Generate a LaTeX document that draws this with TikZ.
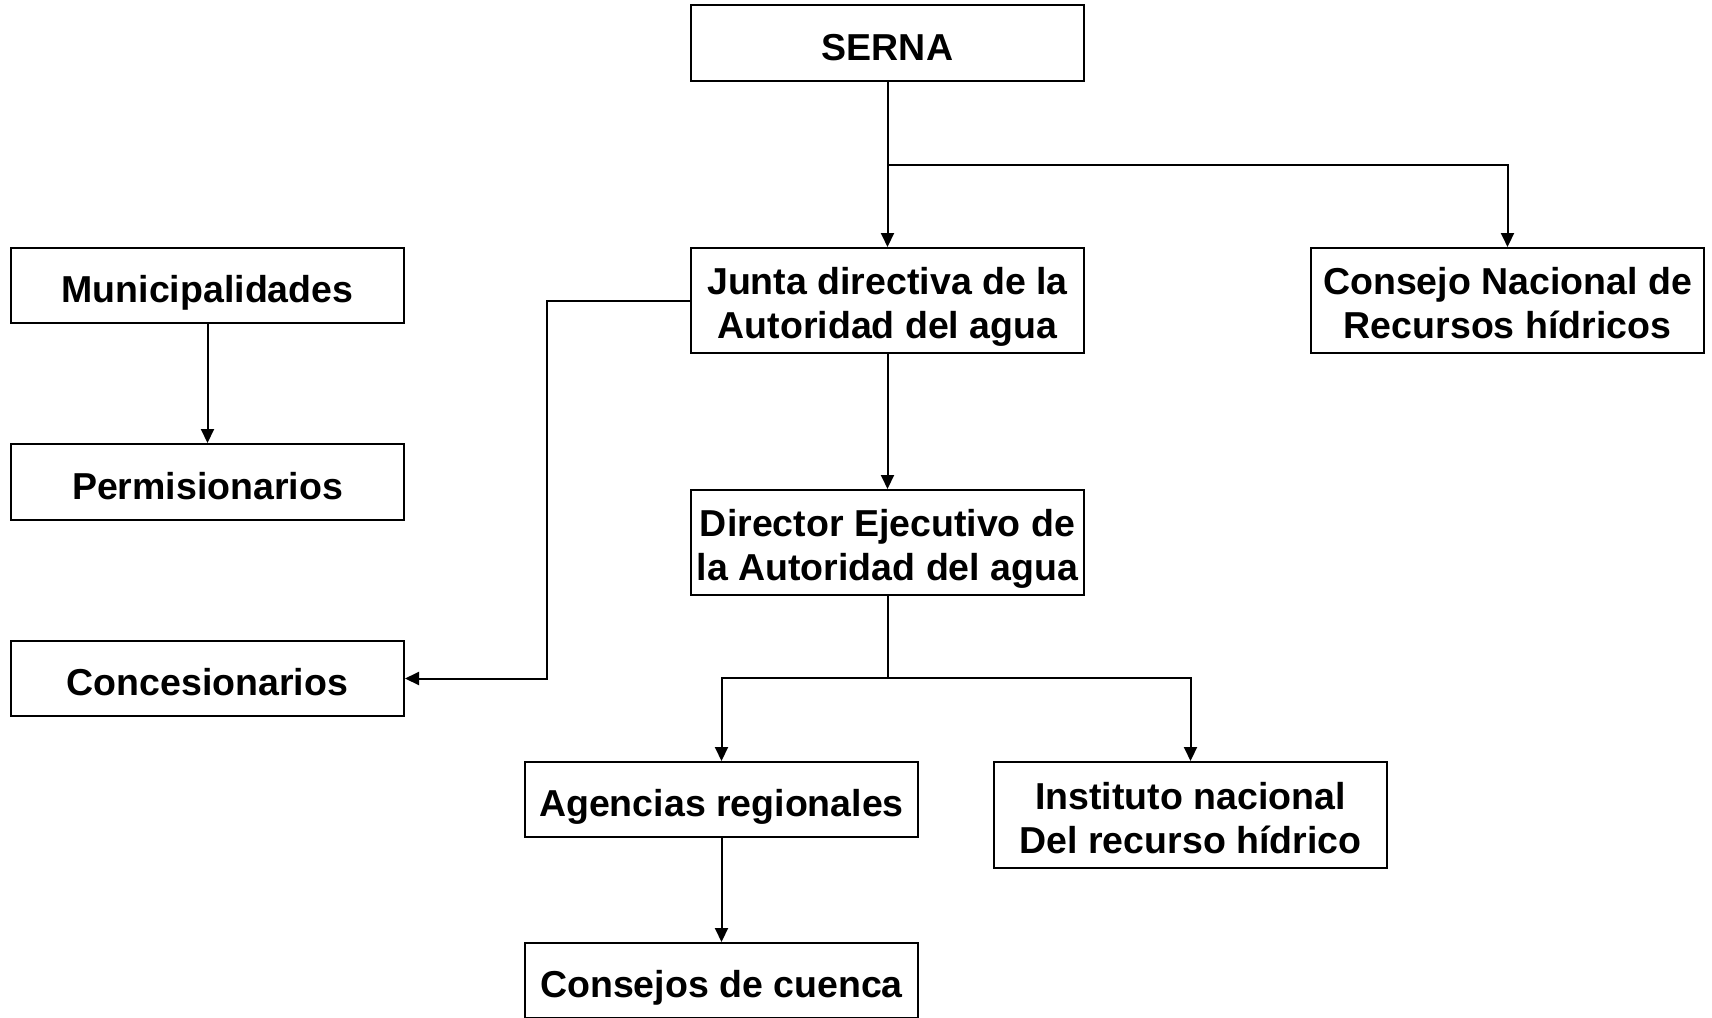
\documentclass[tikz,border=0pt]{standalone}
\usepackage{fontspec}
\setmainfont{Liberation Sans}
\usetikzlibrary{arrows.meta}
\begin{document}
\begin{tikzpicture}[x=1pt,y=-1pt,
  box/.style={draw=black,line width=2pt,rectangle,minimum width=393pt,inner sep=0pt,
    align=center,font=\fontsize{37.5}{44}\selectfont\bfseries},
  boxone/.style={box,text height=34pt,text depth=0pt},
  boxtwo/.style={box,text height=76pt,text depth=0pt},
  conn/.style={line width=2pt,draw=black},
  arr/.style={conn,-{Triangle[length=14pt,width=13pt]}}]
\useasboundingbox (0,0) rectangle (1712,1017);
\fill[white] (0,0) rectangle (1712,1017);
\node[boxone,minimum height=76pt]  (serna) at (887.5,43)   {SERNA};
\node[boxtwo,minimum height=105pt] (junta) at (887.5,300.5) {Junta directiva de la\\Autoridad del agua};
\node[boxtwo,minimum height=105pt] (cnrh)  at (1507.5,300.5) {Consejo Nacional de\\Recursos hídricos};
\node[boxone,minimum height=75pt]  (muni)  at (207.5,285.5) {Municipalidades};
\node[boxone,minimum height=76pt]  (perm)  at (207.5,482)   {Permisionarios};
\node[boxone,minimum height=75pt]  (conc)  at (207.5,678.5) {Concesionarios};
\node[boxtwo,minimum height=105pt] (dir)   at (887.5,542.5) {Director Ejecutivo de\\la Autoridad del agua};
\node[boxone,minimum height=75pt]  (agen)  at (721.5,799.5) {Agencias regionales};
\node[boxtwo,minimum height=106pt] (inst)  at (1190.5,815)  {Instituto nacional\\Del recurso hídrico};
\node[boxone,minimum height=75pt]  (cuen)  at (721.5,980.5) {Consejos de cuenca};
\coordinate (j1) at (887.5,165);
\coordinate (j2) at (887.5,678);
\draw[arr] (serna.south) -- (junta.north);
\draw[arr] (j1) -| (cnrh.north);
\draw[arr] (muni.south) -- (perm.north);
\draw[arr] (junta.west) -| (547,678.5) -- (conc.east);
\draw[arr] (junta.south) -- (dir.north);
\draw[conn] (dir.south) -- (j2);
\draw[arr] (j2) -| (agen.north);
\draw[arr] (j2) -| (inst.north);
\draw[arr] (agen.south) -- (cuen.north);
\end{tikzpicture}
\end{document}
